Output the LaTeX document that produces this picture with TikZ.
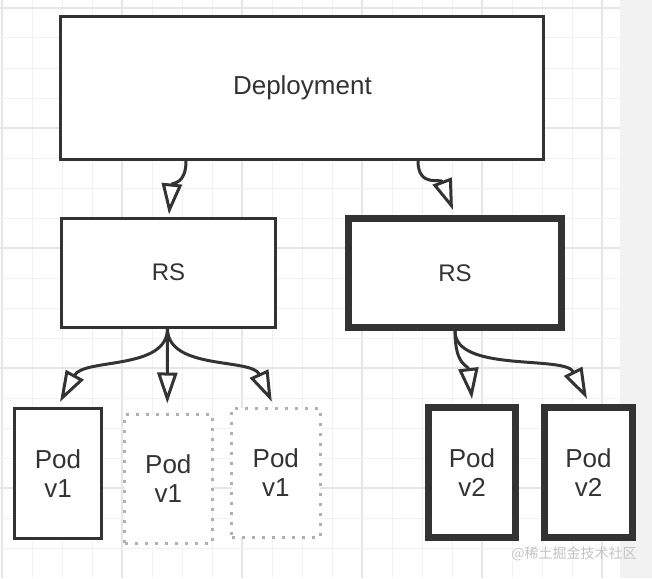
\documentclass[tikz,border=0pt]{standalone}
\usepackage{fontspec}
\setmainfont{Liberation Sans}
\newfontfamily\cjk{Noto Sans CJK SC}
\usetikzlibrary{arrows.meta}
\definecolor{linec}{HTML}{333333}
\definecolor{dotc}{HTML}{B0B0B0}
\definecolor{gridminor}{HTML}{F1F1F1}
\definecolor{gridmajor}{HTML}{E6E6E6}
\definecolor{stripc}{HTML}{F2F2F2}
\definecolor{markc}{HTML}{C4C4C4}
\begin{document}
\begin{tikzpicture}[x=1pt,y=-1pt,
  box/.style={draw=linec, line width=3pt, fill=white, inner sep=0pt,
    align=center, text=linec, font=\fontsize{26}{29}\selectfont},
  boldbox/.style={box, line width=7pt},
  ghostbox/.style={box, draw=dotc, dash pattern=on 3pt off 7pt},
  link/.style={draw=linec, line width=3pt,
    -{Triangle[length=31pt, width=20pt, fill=white]}},
]
\useasboundingbox (0,0) rectangle (652,578);
\fill[white] (0,0) rectangle (620,578);
\fill[stripc] (620,0) rectangle (652,578);
% grid
\foreach \i in {0,...,20}{
  \pgfmathtruncatemacro{\m}{mod(\i,4)}
  \ifnum\m=0
    \draw[gridmajor, line width=1.2pt] (2+30*\i,0) -- (2+30*\i,578);
  \else
    \draw[gridminor, line width=1pt] (2+30*\i,0) -- (2+30*\i,578);
  \fi
}
\foreach \j in {0,...,18}{
  \pgfmathtruncatemacro{\m}{mod(\j,4)}
  \ifnum\m=0
    \draw[gridmajor, line width=1.2pt] (0,8+30*\j) -- (620,8+30*\j);
  \else
    \draw[gridminor, line width=1pt] (0,8+30*\j) -- (620,8+30*\j);
  \fi
}
% nodes
\node[box, minimum width=483pt, minimum height=143pt, font=\fontsize{26}{29}\selectfont] (dep) at (302.4,88) {Deployment};
\node[box, minimum width=214pt, minimum height=109pt, font=\fontsize{24}{29}\selectfont] (rsa) at (168.5,272.5) {RS};
\node[boldbox, minimum width=213pt, minimum height=109pt, font=\fontsize{24}{29}\selectfont] (rsb) at (455,273) {RS};
\node[box, minimum width=87.6pt, minimum height=130pt] (pa) at (58,473.4) {Pod\\v1};
\node[ghostbox, minimum width=87.5pt, minimum height=129pt] (pb) at (168.3,478.5) {Pod\\v1};
\node[ghostbox, minimum width=88.5pt, minimum height=129.4pt] (pc) at (275.8,473) {Pod\\v1};
\node[boldbox, minimum width=87pt, minimum height=130pt] (pd) at (472,472.5) {Pod\\v2};
\node[boldbox, minimum width=88pt, minimum height=130pt] (pe) at (588.5,472.5) {Pod\\v2};
% anchor points for connectors
\coordinate (d1) at ([xshift=-116.4pt]dep.south);
\coordinate (d2) at ([xshift=115.6pt]dep.south);
\coordinate (ra) at ([xshift=-1pt]rsa.south);
\coordinate (rb) at (rsb.south);
\coordinate (ta) at ([xshift=2pt,yshift=5pt]pa.north);
\coordinate (tb) at ([xshift=-1pt,yshift=9pt]pb.north);
\coordinate (tc) at ([xshift=-4pt,yshift=5pt]pc.north);
\coordinate (td) at ([yshift=5pt]pd.north);
\coordinate (te) at ([xshift=-1.5pt,yshift=5pt]pe.north);
\coordinate (tra) at ([xshift=0.5pt,yshift=2pt]rsa.north);
\coordinate (trb) at ([xshift=-2pt,yshift=5pt]rsb.north);
% connectors
\draw[link] (d1) .. controls +(0,24) and +(3,-32) .. (tra);
\draw[link] (d2) .. controls +(0,27) and +(-12,-32) .. (trb);
\draw[link] (ra) .. controls +(0,42) and +(24,-44) .. (ta);
\draw[link] (ra) -- (tb);
\draw[link] (ra) .. controls +(0,42) and +(-20,-44) .. (tc);
\draw[link] (rb) .. controls +(0,35) and +(-4,-34) .. (td);
\draw[link] (rb) .. controls +(0,42) and +(-22,-44) .. (te);
% watermark
\node[inner sep=0pt, text=markc, font=\cjk\fontsize{14}{16}\selectfont] (wm) at (574,554) {@稀土掘金技术社区};
\end{tikzpicture}
\end{document}
